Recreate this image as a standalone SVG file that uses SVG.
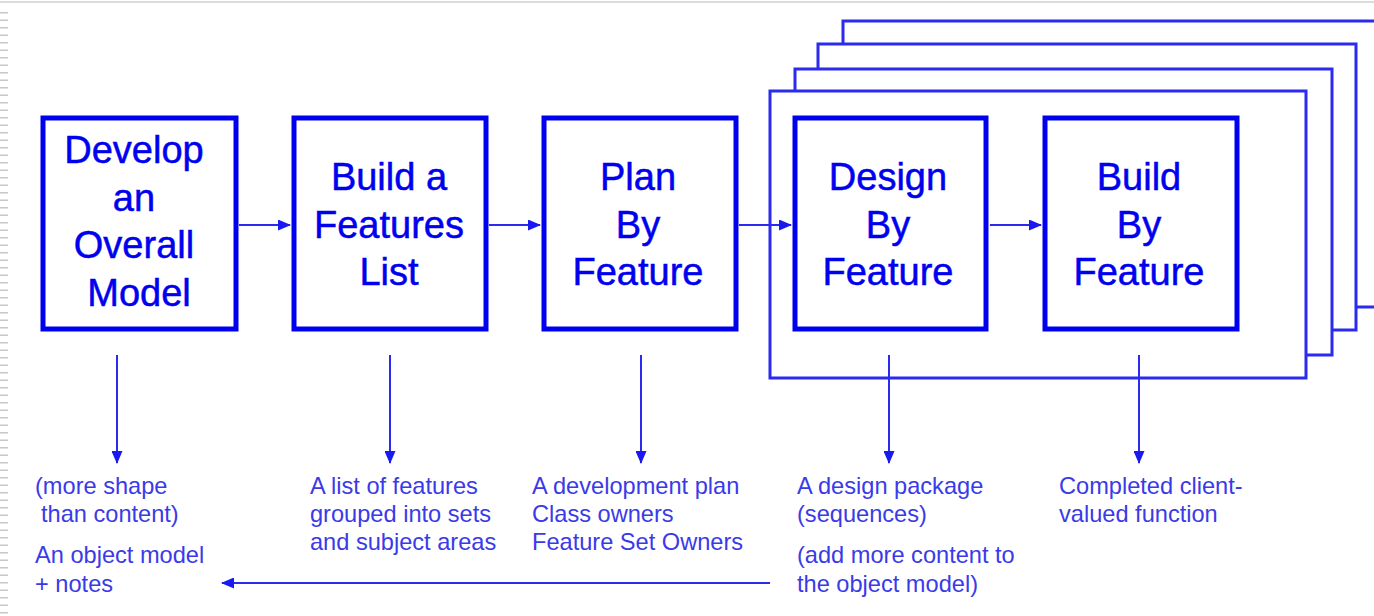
<svg xmlns="http://www.w3.org/2000/svg" width="1374" height="616" viewBox="0 0 1374 616">
<style>
.box{fill:#fff;stroke:#0000f0;stroke-width:5}
.frame{fill:#fff;stroke:#2a2af0;stroke-width:3}
.lbl{font-family:"Liberation Sans",Arial,sans-serif;font-size:38px;fill:#0000f0;text-anchor:middle;stroke:#0000f0;stroke-width:0.5}
.note{font-family:"Liberation Sans",Arial,sans-serif;font-size:23.6px;fill:#3a3ae8}
.conn{stroke:#2a2af0;stroke-width:2;fill:none}
</style>
<defs>
<marker id="ah" markerWidth="13" markerHeight="11" refX="12" refY="5.5" orient="auto" markerUnits="userSpaceOnUse">
<path d="M0,0 L13,5.5 L0,11 Z" fill="#1a1af0"/>
</marker>
</defs>
<rect width="1374" height="616" fill="#fff"/>
<line x1="0" y1="2" x2="1374" y2="2" stroke="#dcdcdc" stroke-width="2"/>
<line x1="4" y1="12" x2="4" y2="616" stroke="#c8c8c8" stroke-width="8" stroke-dasharray="1.5 6"/>
<g id="iteration-frames">
<rect class="frame" x="843" y="21" width="560" height="286"/>
<rect class="frame" x="818" y="44" width="538" height="286"/>
<rect class="frame" x="795" y="69" width="537" height="286"/>
<rect class="frame" x="770" y="91" width="536" height="287" stroke-width="3.5"/>
</g>
<g id="connectors">
<line class="conn" x1="239" y1="225" x2="290" y2="225" marker-end="url(#ah)"/>
<line class="conn" x1="489" y1="225" x2="540" y2="225" marker-end="url(#ah)"/>
<line class="conn" x1="739" y1="225" x2="791" y2="225" marker-end="url(#ah)"/>
<line class="conn" x1="990" y1="225" x2="1041" y2="225" marker-end="url(#ah)"/>
<line class="conn" x1="117" y1="355" x2="117" y2="463" marker-end="url(#ah)"/>
<line class="conn" x1="390" y1="355" x2="390" y2="463" marker-end="url(#ah)"/>
<line class="conn" x1="641" y1="355" x2="641" y2="463" marker-end="url(#ah)"/>
<line class="conn" x1="889" y1="355" x2="889" y2="463" marker-end="url(#ah)"/>
<line class="conn" x1="1139" y1="355" x2="1139" y2="463" marker-end="url(#ah)"/>
<line class="conn" x1="770" y1="583" x2="222" y2="583" marker-end="url(#ah)"/>
</g>
<g id="develop-model">
<rect class="box" x="43" y="118" width="193" height="211"/>
<text class="lbl" x="134" y="163">Develop</text>
<text class="lbl" x="134" y="211">an</text>
<text class="lbl" x="134" y="258">Overall</text>
<text class="lbl" x="139" y="306">Model</text>
</g>
<g id="build-features-list">
<rect class="box" x="294" y="118" width="192" height="211"/>
<text class="lbl" x="389" y="190">Build a</text>
<text class="lbl" x="389" y="238">Features</text>
<text class="lbl" x="389" y="285">List</text>
</g>
<g id="plan-by-feature">
<rect class="box" x="544" y="118" width="192" height="211"/>
<text class="lbl" x="638" y="190">Plan</text>
<text class="lbl" x="638" y="238">By</text>
<text class="lbl" x="638" y="285">Feature</text>
</g>
<g id="design-by-feature">
<rect class="box" x="795" y="118" width="191" height="211"/>
<text class="lbl" x="888" y="190">Design</text>
<text class="lbl" x="888" y="238">By</text>
<text class="lbl" x="888" y="285">Feature</text>
</g>
<g id="build-by-feature">
<rect class="box" x="1045" y="118" width="192" height="211"/>
<text class="lbl" x="1139" y="190">Build</text>
<text class="lbl" x="1139" y="238">By</text>
<text class="lbl" x="1139" y="285">Feature</text>
</g>
<g id="outputs">
<text class="note" x="35" y="494">(more shape</text>
<text class="note" x="41" y="522">than content)</text>
<text class="note" x="35" y="563">An object model</text>
<text class="note" x="35" y="592">+ notes</text>
<text class="note" x="310" y="494">A list of features</text>
<text class="note" x="310" y="522">grouped into sets</text>
<text class="note" x="310" y="550">and subject areas</text>
<text class="note" x="532" y="494">A development plan</text>
<text class="note" x="532" y="522">Class owners</text>
<text class="note" x="532" y="550">Feature Set Owners</text>
<text class="note" x="797" y="494">A design package</text>
<text class="note" x="797" y="522">(sequences)</text>
<text class="note" x="797" y="563">(add more content to</text>
<text class="note" x="797" y="592">the object model)</text>
<text class="note" x="1059" y="494">Completed client-</text>
<text class="note" x="1059" y="522">valued function</text>
</g>
</svg>
